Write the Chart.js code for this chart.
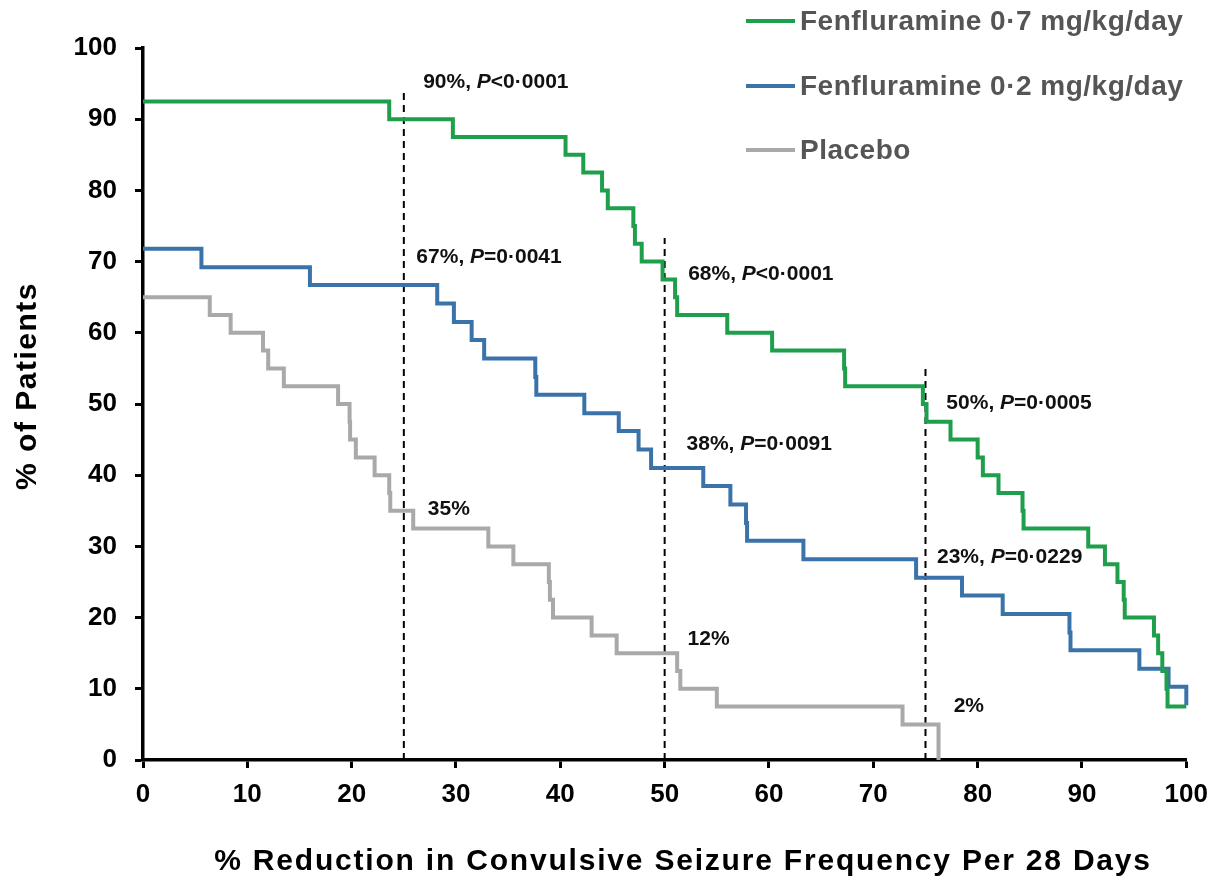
<!DOCTYPE html>
<html><head><meta charset="utf-8">
<script src="https://cdn.jsdelivr.net/npm/chart.js@4"></script>
<style>html,body{margin:0;padding:0;background:#fff}canvas{display:block}</style>
</head><body>
<canvas id="c" width="1219" height="892"></canvas>
<script>
// ---- tick labels ----
const xTicks = [0,10,20,30,40,50,60,70,80,90,100];
const yTicks = [0,10,20,30,40,50,60,70,80,90,100];

// ---- series names ----
const seriesNames = ['Fenfluramine 0·7 mg/kg/day','Fenfluramine 0·2 mg/kg/day','Placebo'];

// ---- Fenfluramine 0.7 mg/kg/day (step points: reduction %, % of patients) ----
const highX = [0,23.6,29.7,40.5,42.2,44.0,44.55,47.0,47.15,47.8,49.8,51.0,51.2,56.0,60.3,67.2,67.3,74.75,75.1,77.4,80.0,80.5,82.0,84.3,84.4,90.6,92.2,93.4,94.0,94.1,96.9,97.3,97.7,98.1,98.2,100];
const highY = [92.5,90,87.5,85,82.5,80,77.5,75,72.5,70,67.5,65,62.5,60,57.5,55,52.5,50,47.5,45,42.5,40,37.5,35,32.5,30,27.5,25,22.5,20,17.5,15,12.5,10,7.5,7.5];

// ---- Fenfluramine 0.2 mg/kg/day ----
const lowX = [0,5.6,16.0,28.2,29.8,31.5,32.7,37.6,37.7,42.3,45.6,47.5,48.7,53.7,56.3,57.8,57.9,63.3,74.1,78.5,82.4,88.8,88.9,95.5,98.3,100];
const lowY = [71.8,69.2,66.7,64.1,61.5,59.0,56.4,53.8,51.3,48.7,46.2,43.6,41.0,38.5,35.9,33.3,30.8,28.2,25.6,23.1,20.5,17.9,15.4,12.8,10.3,7.7];

// ---- Placebo ----
const placeboX = [0,6.4,8.4,11.5,12.0,13.5,18.7,19.8,19.85,20.4,22.2,23.6,23.7,25.9,33.1,35.5,38.9,39.0,39.3,43.0,45.4,51.2,51.5,55.0,72.8,76.25];
const placeboY = [65,62.5,60,57.5,55,52.5,50,47.5,45,42.5,40,37.5,35,32.5,30,27.5,25,22.5,20,17.5,15,12.5,10,7.5,5,0];

// ---- reference (dashed) lines ----
const refX = [25,50,75];
const refTop = [94.1,73.3,55.0];

// ---- annotation texts ----
const annValue = ['90%','67%','35%','68%','38%','12%','50%','23%','2%'];
const annP = ['<0·0001','=0·0041',null,'<0·0001','=0·0091',null,'=0·0005','=0·0229',null];
// anchor (left, middle) of each annotation, in data units
const annAtX = [26.85,26.2,27.3,52.25,52.1,52.2,77.0,76.1,77.7];
const annAtY = [95.2,70.6,35.25,68.3,44.4,17.0,50.1,28.5,7.6];

const COLORS = ['#1f9e4c','#3a73aa','#a9a9a9'];
const FONT = '"Liberation Sans", Arial, sans-serif';

const toPts = (xs, ys) => xs.map((x,i)=>({x:x, y:ys[i]}));

const curves = [
  {label: seriesNames[0], data: toPts(highX, highY), borderColor: COLORS[0], order: 1},
  {label: seriesNames[1], data: toPts(lowX, lowY), borderColor: COLORS[1], order: 2},
  {label: seriesNames[2], data: toPts(placeboX, placeboY), borderColor: COLORS[2], order: 3}
].map(d => Object.assign(d, {stepped:'before', borderWidth:4, pointRadius:0, fill:false, clip:10, borderJoinStyle:'miter', borderCapStyle:'butt'}));

const refSets = refX.map((x,i)=>({
  label:'ref'+i, data:[{x:x,y:0},{x:x,y:refTop[i]}], borderColor:'#000', borderWidth:2,
  borderDash:[7,5], pointRadius:0, fill:false, order:10, clip:10
}));

const decor = {
  id:'decor',
  afterDraw(chart){
    const ctx = chart.ctx;
    const xs = chart.scales.x, ys = chart.scales.y;
    ctx.save();
    // annotations
    ctx.textBaseline = 'middle';
    ctx.fillStyle = '#111';
    for (let i=0;i<annValue.length;i++){
      let px = xs.getPixelForValue(annAtX[i]);
      const py = ys.getPixelForValue(annAtY[i]);
      ctx.textAlign = 'left';
      ctx.font = 'bold 21px ' + FONT;
      let t = annValue[i] + (annP[i] ? ', ' : '');
      ctx.fillText(t, px, py);
      px += ctx.measureText(t).width;
      if (annP[i]){
        ctx.font = 'italic bold 21px ' + FONT;
        ctx.fillText('P', px, py);
        px += ctx.measureText('P').width;
        ctx.font = 'bold 21px ' + FONT;
        ctx.fillText(annP[i], px, py);
      }
    }
    // legend
    const legY = [21,86,150];
    for (let i=0;i<seriesNames.length;i++){
      ctx.strokeStyle = COLORS[i];
      ctx.lineWidth = 4;
      ctx.beginPath(); ctx.moveTo(746, legY[i]); ctx.lineTo(795, legY[i]); ctx.stroke();
      ctx.fillStyle = '#555';
      ctx.font = 'bold 28px ' + FONT;
      ctx.letterSpacing = '0.5px';
      ctx.textAlign = 'left';
      ctx.fillText(seriesNames[i], 800, legY[i]+1);
    }
    // axis titles
    ctx.fillStyle = '#000';
    ctx.font = 'bold 30px ' + FONT;
    ctx.letterSpacing = '1.8px';
    ctx.textAlign = 'center';
    ctx.fillText('% Reduction in Convulsive Seizure Frequency Per 28 Days', 683, 862);
    ctx.translate(28, 386);
    ctx.rotate(-Math.PI/2);
    ctx.letterSpacing = '1.5px';
    ctx.fillText('% of Patients', 0, 0);
    ctx.restore();
  }
};

const axisCommon = {
  type:'linear', min:0, max:100,
  grid:{drawOnChartArea:false, drawTicks:true, tickLength:8, tickWidth:3, tickColor:'#000'},
  border:{display:true, color:'#000', width:3.5},
};

new Chart(document.getElementById('c'), {
  type:'line',
  data:{datasets:[...curves, ...refSets]},
  options:{
    responsive:false, animation:false, devicePixelRatio:1,
    layout:{padding:{top:48, right:32, left:0, bottom:0}},
    plugins:{legend:{display:false}, tooltip:{enabled:false}, title:{display:false}},
    scales:{
      x: Object.assign({}, axisCommon, {
        position:'bottom',
        afterBuildTicks: s => { s.ticks = xTicks.map(v=>({value:v})); },
        ticks:{font:{family:FONT, size:26, weight:'bold'}, color:'#000', padding:11, maxRotation:0, autoSkip:false},
        afterFit: s => { s.height = 132; }
      }),
      y: Object.assign({}, axisCommon, {
        position:'left',
        afterBuildTicks: s => { s.ticks = yTicks.map(v=>({value:v})); },
        ticks:{font:{family:FONT, size:26, weight:'bold'}, color:'#000', padding:18, autoSkip:false},
        afterFit: s => { s.width = 143; }
      })
    }
  },
  plugins:[decor]
});
</script>
</body></html>
